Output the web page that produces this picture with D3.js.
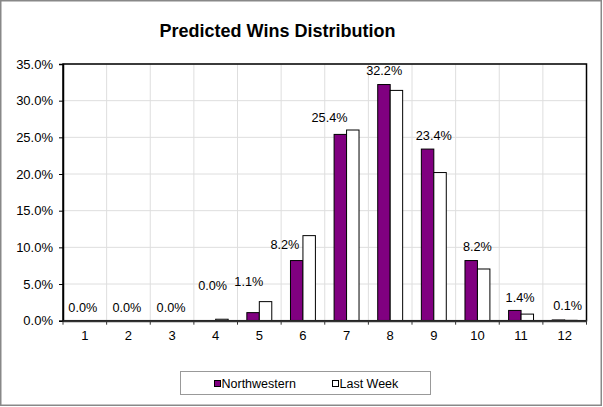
<!DOCTYPE html>
<html>
<head>
<meta charset="utf-8">
<script src="https://cdn.jsdelivr.net/npm/d3@7"></script>
<style>
  html, body { margin: 0; padding: 0; background: #fff; }
  svg { display: block; font-family: "Liberation Sans", Arial, sans-serif; }
</style>
</head>
<body>
<svg id="chart" width="603" height="407"></svg>
<script>
// ---- data ----
const categories = ["1","2","3","4","5","6","7","8","9","10","11","12"];
const seriesNames = ["Northwestern", "Last Week"];
const northwestern = [0.0, 0.0, 0.0, 0.0, 1.1, 8.2, 25.4, 32.2, 23.4, 8.2, 1.4, 0.1];
const lastWeek     = [0.0, 0.0, 0.0, 0.2, 2.6, 11.6, 26.0, 31.4, 20.2, 7.05, 0.9, 0.05];
const dataLabels   = ["0.0%","0.0%","0.0%","0.0%","1.1%","8.2%","25.4%","32.2%","23.4%","8.2%","1.4%","0.1%"];
const yTicks = [0, 5, 10, 15, 20, 25, 30, 35];
const titleText = "Predicted Wins Distribution";

// ---- layout ----
const svg = d3.select("#chart");
const plot = { left: 63, right: 586.5, top: 64, bottom: 320.7 };
const colors = ["#800080", "#ffffff"];

// outer frame
svg.append("rect").attr("x", 0.75).attr("y", 0.75).attr("width", 600.5).attr("height", 404.5)
  .attr("fill", "#fff").attr("stroke", "#888").attr("stroke-width", 1.5);

const x0 = d3.scaleBand().domain(categories).range([plot.left, plot.right]).padding(0);
const bw = x0.bandwidth();
const barW = bw / 3.5;
const x1 = d3.scaleBand().domain(seriesNames).range([barW * 0.75, barW * 2.75]).padding(0);
const y = d3.scaleLinear().domain([0, 35]).range([plot.bottom, plot.top]);

// gridlines
const grid = svg.append("g");
grid.selectAll("line.h").data(yTicks.slice(1)).enter().append("line")
  .attr("x1", plot.left).attr("x2", plot.right)
  .attr("y1", d => y(d)).attr("y2", d => y(d))
  .attr("stroke", "#dedede").attr("stroke-width", 1);
grid.selectAll("line.v").data(categories.slice(1)).enter().append("line")
  .attr("x1", d => x0(d)).attr("x2", d => x0(d))
  .attr("y1", plot.top).attr("y2", plot.bottom)
  .attr("stroke", "#dedede").attr("stroke-width", 1);

// bars
const series = [northwestern, lastWeek];
series.forEach((vals, si) => {
  svg.append("g").selectAll("rect").data(vals).enter().append("rect")
    .attr("x", (d, i) => x0(categories[i]) + x1(seriesNames[si]))
    .attr("width", x1.bandwidth())
    .attr("y", d => y(d))
    .attr("height", d => plot.bottom - y(d))
    .attr("fill", colors[si])
    .attr("stroke", "#000").attr("stroke-width", 1)
    .style("display", d => d > 0 ? null : "none");
});

// plot border
svg.append("rect").attr("x", plot.left).attr("y", plot.top)
  .attr("width", plot.right - plot.left).attr("height", plot.bottom - plot.top)
  .attr("fill", "none").attr("stroke", "#000").attr("stroke-width", 1.5);

// axes
const yAxis = d3.axisLeft(y).tickValues(yTicks).tickFormat(d => d.toFixed(1) + "%").tickSize(4).tickPadding(6);
const gy = svg.append("g").attr("transform", `translate(${plot.left},0)`).call(yAxis);
gy.select(".domain").attr("stroke", "#000").attr("stroke-width", 1.5);
gy.selectAll(".tick line").attr("stroke", "#000");
gy.selectAll("text").attr("font-size", 13).attr("fill", "#000")
  .attr("font-family", "'Liberation Sans', Arial, sans-serif");

const xAxis = d3.axisBottom(x0).tickSize(0).tickPadding(10);
const gx = svg.append("g").attr("transform", `translate(0,${plot.bottom})`).call(xAxis);
gx.select(".domain").attr("stroke", "#333").attr("stroke-width", 2);
gx.selectAll("text").attr("font-size", 13).attr("fill", "#000")
  .attr("font-family", "'Liberation Sans', Arial, sans-serif");
// x boundary ticks
svg.append("g").selectAll("line").data(categories.concat(["end"])).enter().append("line")
  .attr("x1", (d, i) => i < categories.length ? x0(d) : plot.right)
  .attr("x2", (d, i) => i < categories.length ? x0(d) : plot.right)
  .attr("y1", plot.bottom).attr("y2", plot.bottom + 4)
  .attr("stroke", "#333").attr("stroke-width", 1);

// data labels (manually nudged like the original)
const labelDx = [-2, -1.5, -1, -3, -10.5, -18, -17, -6, 0, 0, -1, 3];
const labelDy = [-9, -9, -9, -31, -27, -12, -12, -10, -9, -10, -8, -10];
svg.append("g").selectAll("text").data(northwestern).enter().append("text")
  .attr("x", (d, i) => x0(categories[i]) + bw / 2 + labelDx[i])
  .attr("y", (d, i) => y(d) + labelDy[i])
  .attr("text-anchor", "middle")
  .attr("font-size", 12.7).attr("fill", "#000")
  .text((d, i) => dataLabels[i]);

// title
svg.append("text").attr("x", 277.5).attr("y", 37).attr("text-anchor", "middle")
  .attr("font-size", 18).attr("font-weight", "bold").attr("fill", "#000")
  .text(titleText);

// legend
const lg = svg.append("g");
lg.append("rect").attr("x", 180.5).attr("y", 371.5).attr("width", 250).attr("height", 23)
  .attr("fill", "#fff").attr("stroke", "#999").attr("stroke-width", 1);
const legendX = [214.5, 332.5];
seriesNames.forEach((name, i) => {
  lg.append("rect").attr("x", legendX[i]).attr("y", 380.5).attr("width", 6).attr("height", 6)
    .attr("fill", colors[i]).attr("stroke", "#000").attr("stroke-width", 1);
  lg.append("text").attr("x", legendX[i] + 7).attr("y", 387.5)
    .attr("font-size", 12.5).attr("fill", "#000").text(name);
});
</script>
</body>
</html>
